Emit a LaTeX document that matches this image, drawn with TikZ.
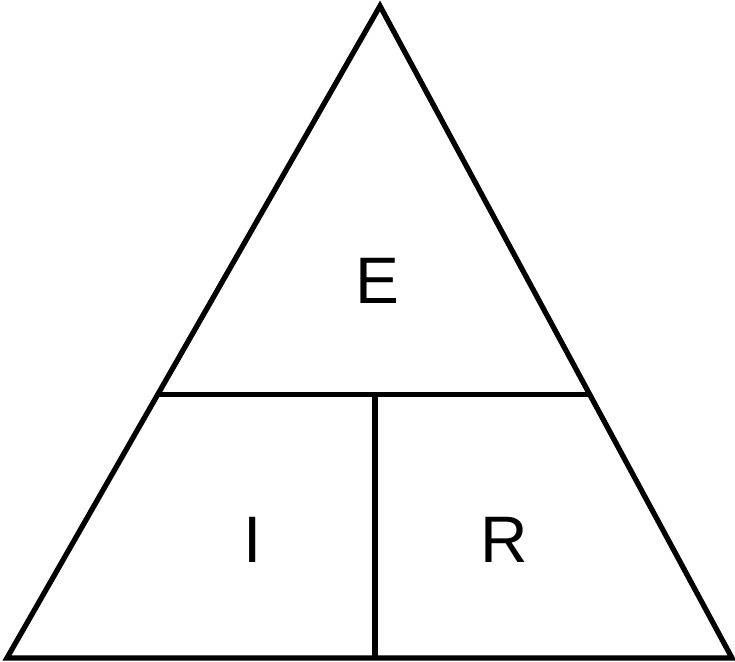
\documentclass[tikz,border=0pt]{standalone}
\usepackage{fontspec}
\setmainfont{Liberation Sans}
\usetikzlibrary{calc}

\begin{document}
\begin{tikzpicture}[
    x=0.01cm, y=-0.01cm,
    edge/.style={draw=black, line width=1.5pt, line join=miter},
    lbl/.style={font=\fontsize{18.7}{20}\selectfont, inner sep=0pt}
]
    \useasboundingbox (0,0) rectangle (735,662);

    % ---- corners of the triangle ----
    \coordinate (apex) at (380,6);
    \coordinate (bl) at (7,658);
    \coordinate (br) at (732,658);
    \coordinate (ml) at ($(apex)!0.5963!(bl)$);
    \coordinate (mr) at ($(apex)!0.5963!(br)$);
    \coordinate (mt) at (375,395);
    \coordinate (mb) at (375,658);

    % ---- outline and dividers ----
    \draw[edge] (apex) -- (bl) -- (br) -- cycle;
    \draw[edge] (ml) -- (mr);
    \draw[edge] (mt) -- (mb);

    % ---- letters ----
    \node[lbl] (volt) at (377,281) {E};
    \node[lbl] (amp)  at (253,540) {I};
    \node[lbl] (ohm)  at (504,540) {R};
\end{tikzpicture}
\end{document}
